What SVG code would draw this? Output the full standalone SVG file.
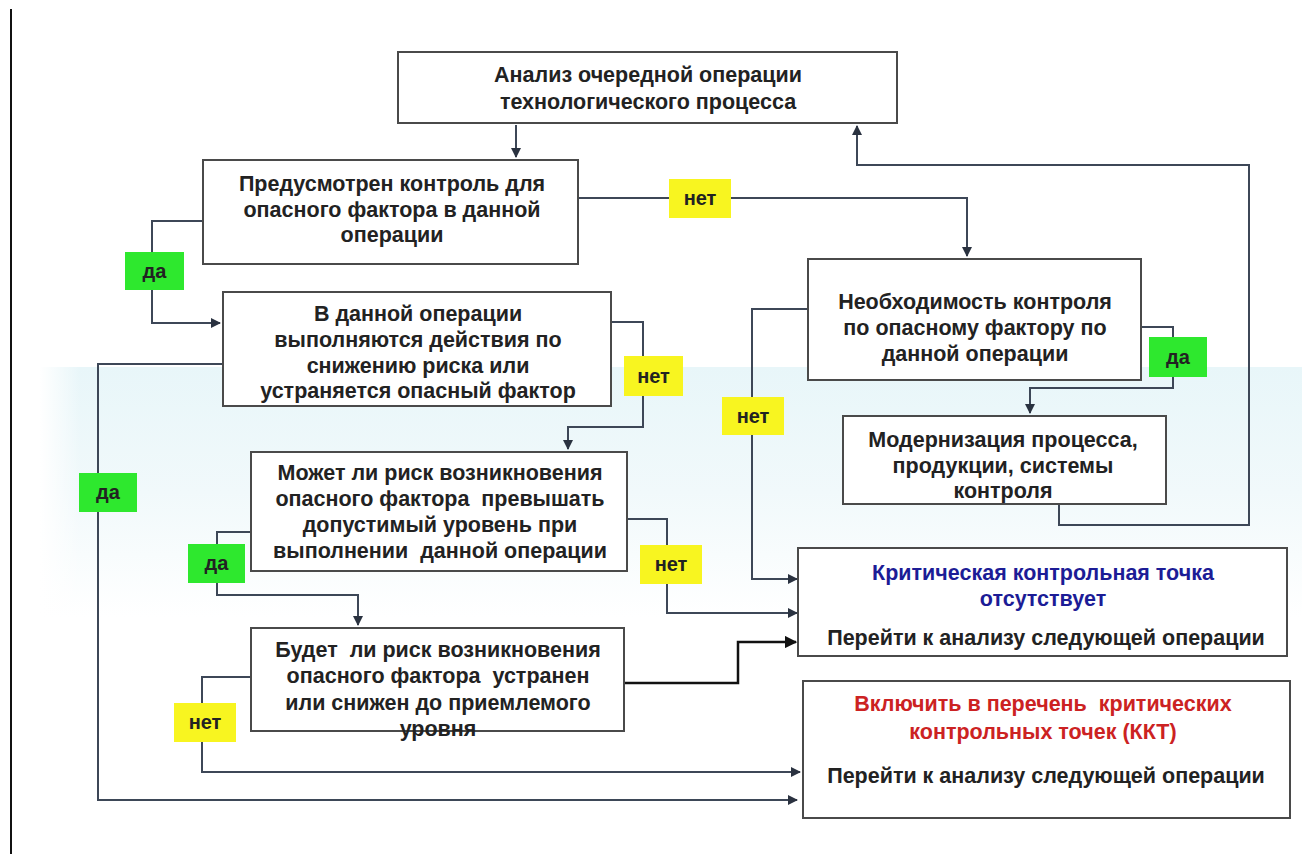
<svg xmlns="http://www.w3.org/2000/svg" width="1302" height="854" viewBox="0 0 1302 854">
<style>
.box{fill:#fff;stroke:#4a4a4a;stroke-width:2}
.t{font-family:"Liberation Sans",Arial,sans-serif;font-weight:bold;font-size:21.5px;fill:#222;text-anchor:middle;white-space:pre}
.lb{font-family:"Liberation Sans",Arial,sans-serif;font-weight:bold;font-size:20px;fill:#222;text-anchor:middle}
.c{fill:none;stroke:#3d4757;stroke-width:2}
.g{fill:#2ee82e}
.y{fill:#f8f520}
</style>
<defs>
<linearGradient id="band" x1="0" y1="0" x2="0" y2="1">
<stop offset="0" stop-color="#e8f6f9"/>
<stop offset="0.5" stop-color="#f1f9fb"/>
<stop offset="1" stop-color="#ffffff"/>
</linearGradient>
<linearGradient id="bandL" x1="0" y1="0" x2="1" y2="0">
<stop offset="0" stop-color="#ffffff"/>
<stop offset="1" stop-color="#ffffff" stop-opacity="0"/>
</linearGradient>
<marker id="ar" viewBox="0 0 10 10" refX="9" refY="5" markerWidth="5" markerHeight="5" orient="auto" markerUnits="strokeWidth">
<path d="M0,0 L10,5 L0,10 z" fill="#2a3240"/>
</marker>
<marker id="arB" viewBox="0 0 10 10" refX="9" refY="5" markerWidth="5" markerHeight="5" orient="auto" markerUnits="strokeWidth">
<path d="M0,0 L10,5 L0,10 z" fill="#111"/>
</marker>
</defs>
<rect width="1302" height="854" fill="#fff"/>
<rect x="40" y="367" width="1262" height="250" fill="url(#band)"/>
<rect x="40" y="367" width="40" height="250" fill="url(#bandL)"/>
<line x1="11" y1="9" x2="11" y2="854" stroke="#111" stroke-width="2"/>

<g id="connectors">
<path class="c" d="M516,125 V157" marker-end="url(#ar)"/>
<path class="c" d="M203,221 H152 V323 H220" marker-end="url(#ar)"/>
<path class="c" d="M578,198 H967 V256" marker-end="url(#ar)"/>
<path class="c" d="M611,322 H643 V427 H568 V449" marker-end="url(#ar)"/>
<path class="c" d="M223,364 H98 V800 H797" marker-end="url(#ar)"/>
<path class="c" d="M251,532 H217 V595 H358 V625" marker-end="url(#ar)"/>
<path class="c" d="M627,519 H667 V613 H797" marker-end="url(#ar)"/>
<path d="M624,683 H738 V642 H796" fill="none" stroke="#111" stroke-width="2.5" marker-end="url(#arB)"/>
<path class="c" d="M251,677 H202 V772 H800" marker-end="url(#ar)"/>
<path class="c" d="M808,309 H752 V579 H797" marker-end="url(#ar)"/>
<path class="c" d="M1142,327 H1173 V388 H1030 V413" marker-end="url(#ar)"/>
<path class="c" d="M1059,505 V525 H1249 V165 H857 V126" marker-end="url(#ar)"/>
</g>

<g id="labels">
<rect class="g" x="125" y="252" width="59" height="38"/><text class="lb" x="154.5" y="278">да</text>
<rect class="y" x="669" y="179" width="62" height="39"/><text class="lb" x="700" y="205">нет</text>
<rect class="y" x="624" y="356" width="59" height="40"/><text class="lb" x="653.5" y="383">нет</text>
<rect class="g" x="1149" y="337" width="58" height="40"/><text class="lb" x="1178" y="364">да</text>
<rect class="y" x="722" y="397" width="62" height="38"/><text class="lb" x="753" y="423">нет</text>
<rect class="g" x="79" y="473" width="58" height="39"/><text class="lb" x="108" y="499">да</text>
<rect class="g" x="188" y="544" width="57" height="39"/><text class="lb" x="216.5" y="570">да</text>
<rect class="y" x="640" y="545" width="62" height="39"/><text class="lb" x="671" y="571">нет</text>
<rect class="y" x="174" y="703" width="62" height="39"/><text class="lb" x="205" y="729">нет</text>
</g>

<g id="n1">
<rect class="box" x="398" y="52" width="499" height="71"/>
<text class="t" x="648" y="82">Анализ очередной операции</text>
<text class="t" x="648" y="109">технологического процесса</text>
</g>
<g id="n2">
<rect class="box" x="203" y="160" width="375" height="104"/>
<text class="t" x="392" y="191">Предусмотрен контроль для</text>
<text class="t" x="392" y="217">опасного фактора в данной</text>
<text class="t" x="392" y="242">операции</text>
</g>
<g id="n3">
<rect class="box" x="223" y="292" width="388" height="114"/>
<text class="t" x="418" y="321">В данной операции</text>
<text class="t" x="418" y="347">выполняются действия по</text>
<text class="t" x="418" y="373">снижению риска или</text>
<text class="t" x="418" y="398">устраняется опасный фактор</text>
</g>
<g id="n4">
<rect class="box" x="251" y="452" width="376" height="119"/>
<text class="t" x="440" y="480">Может ли риск возникновения</text>
<text class="t" x="440" y="506">опасного фактора  превышать</text>
<text class="t" x="440" y="532">допустимый уровень при</text>
<text class="t" x="440" y="558">выполнении  данной операции</text>
</g>
<g id="n5">
<rect class="box" x="251" y="628" width="373" height="103"/>
<text class="t" x="438" y="657">Будет  ли риск возникновения</text>
<text class="t" x="438" y="683">опасного фактора  устранен</text>
<text class="t" x="438" y="710">или снижен до приемлемого</text>
<text class="t" x="438" y="736">уровня</text>
</g>
<g id="n6">
<rect class="box" x="808" y="259" width="333" height="121"/>
<text class="t" x="975" y="309">Необходимость контроля</text>
<text class="t" x="975" y="335">по опасному фактору по</text>
<text class="t" x="975" y="361">данной операции</text>
</g>
<g id="n7">
<rect class="box" x="843" y="416" width="323" height="88"/>
<text class="t" x="1003" y="447">Модернизация процесса,</text>
<text class="t" x="1003" y="473">продукции, системы</text>
<text class="t" x="1003" y="498">контроля</text>
</g>
<g id="n8">
<rect class="box" x="798" y="548" width="489" height="108"/>
<text class="t" x="1043" y="580" style="fill:#1c1c96">Критическая контрольная точка</text>
<text class="t" x="1043" y="606" style="fill:#1c1c96">отсутствует</text>
<text class="t" x="1046" y="645">Перейти к анализу следующей операции</text>
</g>
<g id="n9">
<rect class="box" x="803" y="681" width="487" height="137"/>
<text class="t" x="1043" y="711" style="fill:#cc2222">Включить в перечень  критических</text>
<text class="t" x="1043" y="739" style="fill:#cc2222">контрольных точек (ККТ)</text>
<text class="t" x="1046" y="783">Перейти к анализу следующей операции</text>
</g>
</svg>
